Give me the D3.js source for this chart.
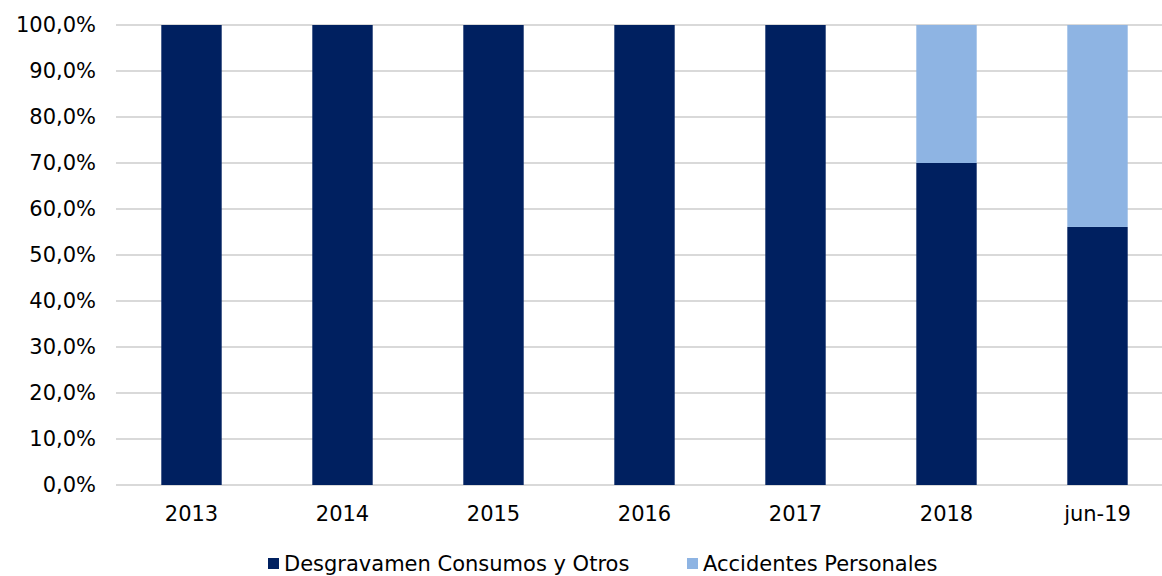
<!DOCTYPE html>
<html><head><meta charset="utf-8">
<script src="https://cdn.jsdelivr.net/npm/d3@7"></script>
<style>body{margin:0;background:#fff}svg{display:block}text{font-family:"DejaVu Sans",Verdana,sans-serif;fill:#000}</style>
</head><body><svg id="c" width="1162" height="576"></svg>
<script>
const categories = ["2013","2014","2015","2016","2017","2018","jun-19"];
const desgravamen = [100,100,100,100,100,70,56.1];
const accidentes = [0,0,0,0,0,30,43.9];
const yTicks = [0,10,20,30,40,50,60,70,80,90,100];
const seriesNames = ["Desgravamen Consumos y Otros","Accidentes Personales"];
const colors = ["#002060","#8EB4E3"];

const svg = d3.select("#c");
const x = d3.scaleBand().domain(categories).range([116,1173]).paddingInner(0.6).paddingOuter(0.3);
const y = d3.scaleLinear().domain([0,100]).range([485,25]);
const fs = 21;

svg.append("g").selectAll("line").data(yTicks).join("line")
  .attr("x1",116).attr("x2",1162).attr("y1",d=>y(d)).attr("y2",d=>y(d))
  .attr("stroke","#d9d9d9").attr("stroke-width",2);

const yAxis = d3.axisLeft(y).tickValues(yTicks).tickSize(0).tickPadding(0)
  .tickFormat(d=>d.toFixed(1).replace(".",",")+"%");
const ga = svg.append("g").attr("transform","translate(96,0)").call(yAxis);
ga.select(".domain").remove();
ga.selectAll("text").style("font-size",fs+"px").attr("font-family",null);

const data = categories.map((c,i)=>({cat:c,d:desgravamen[i],a:accidentes[i]}));
const stack = d3.stack().keys(["d","a"])(data);
svg.append("g").selectAll("g").data(stack).join("g").attr("fill",(s,i)=>colors[i])
  .selectAll("rect").data(s=>s.filter(p=>p[1]>p[0])).join("rect")
  .attr("x",p=>x(p.data.cat)).attr("width",x.bandwidth())
  .attr("y",p=>y(p[1])).attr("height",p=>y(p[0])-y(p[1]));

const xAxis = d3.axisBottom(x).tickSize(0).tickPadding(0);
const gx = svg.append("g").attr("transform","translate(0,506)").call(xAxis);
gx.select(".domain").remove();
gx.selectAll("text").style("font-size",fs+"px").attr("font-family",null);

const leg = svg.append("g");
const legX = [268,687];
seriesNames.forEach((n,i)=>{
  leg.append("rect").attr("x",legX[i]).attr("y",558).attr("width",11).attr("height",11).attr("fill",colors[i]);
  leg.append("text").attr("x",legX[i]+16).attr("y",571).style("font-size",fs+"px").text(n);
});
</script></body></html>
